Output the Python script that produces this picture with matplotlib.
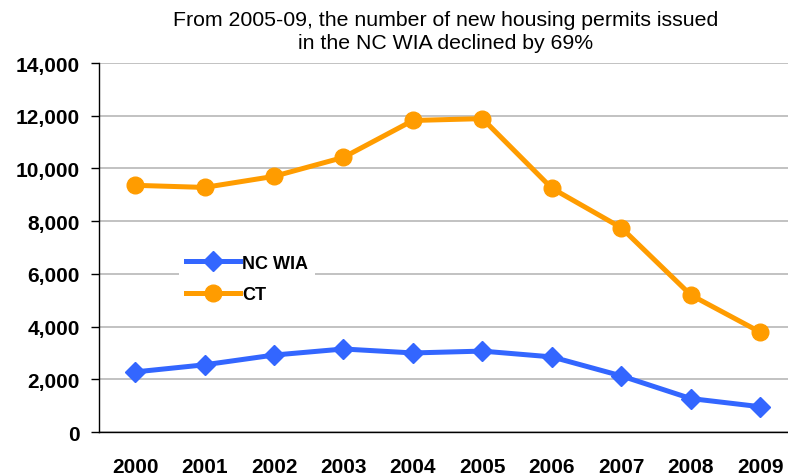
import matplotlib
matplotlib.use("Agg")
import matplotlib.pyplot as plt
from matplotlib.ticker import FuncFormatter

years = ["2000", "2001", "2002", "2003", "2004", "2005", "2006", "2007", "2008", "2009"]
nc_wia = [2280, 2550, 2920, 3150, 3000, 3070, 2850, 2130, 1270, 960]
ct = [9360, 9280, 9700, 10420, 11820, 11890, 9250, 7750, 5200, 3790]


def main():
    plt.rcParams['font.family'] = ['Liberation Sans', 'DejaVu Sans']
    fig = plt.figure(figsize=(7.88, 4.77), dpi=100)
    ax = fig.add_axes([0.1256, 0.0922, 0.8744, 0.7736])
    x = list(range(len(years)))

    ax.plot(x, nc_wia, color='#3366FF', lw=3.6, marker='D', ms=10,
            label='NC WIA', zorder=3)
    ax.plot(x, ct, color='#FF9C00', lw=3.6, marker='o', ms=12,
            label='CT', zorder=3)

    ax.set_xlim(-0.52, 9.40)
    ax.set_ylim(0, 14000)
    ax.set_yticks(range(0, 14001, 2000))
    ax.yaxis.set_major_formatter(FuncFormatter(lambda v, p: f"{int(v):,}"))
    ax.set_xticks(x)
    ax.set_xticklabels(years)
    ax.tick_params(axis='y', length=6, width=1, labelsize=15, pad=8)
    ax.tick_params(axis='x', length=0, labelsize=15, pad=18)
    for lab in ax.get_xticklabels() + ax.get_yticklabels():
        lab.set_fontweight('bold')

    ax.grid(axis='y', color='#b8b8b8', lw=1.2)
    ax.set_axisbelow(True)
    for s in ['top', 'right']:
        ax.spines[s].set_visible(False)
    ax.spines['left'].set_linewidth(1)
    ax.spines['bottom'].set_linewidth(1)

    ax.legend(loc='upper left', bbox_to_anchor=(0.103, 0.525),
              frameon=True, fancybox=False, edgecolor='none',
              framealpha=1, handlelength=3.0, handletextpad=0.1,
              labelspacing=0.8, prop={'weight': 'bold', 'size': 13})

    fig.text(0.566, 0.977, "From 2005-09, the number of new housing permits issued\n"
             "in the NC WIA declined by 69%", ha='center', va='top',
             fontsize=15.3, linespacing=1.3)

    fig.savefig("out.png", dpi=100)


if __name__ == "__main__":
    main()
